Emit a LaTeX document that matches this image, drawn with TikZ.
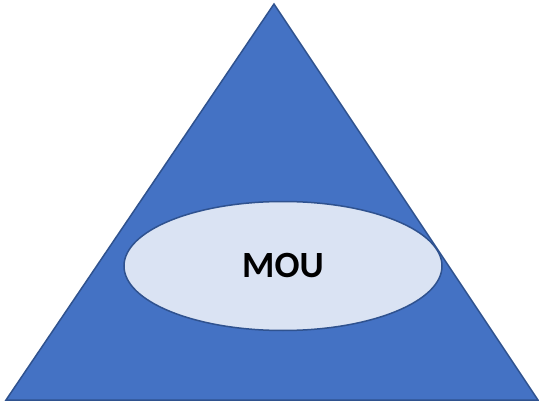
\documentclass[tikz,border=0pt]{standalone}
\usepackage{fontspec}
\setmainfont{Carlito}
\usepackage{tikz}
\usetikzlibrary{shapes.geometric}

\definecolor{pyrblue}{HTML}{4472C4}
\definecolor{pyredge}{HTML}{2F528F}
\definecolor{paleblue}{HTML}{DAE3F3}

\begin{document}
\begin{tikzpicture}[x=1pt, y=-1pt,
    mouellipse/.style={ellipse, draw=pyredge, line width=1.5pt, fill=paleblue,
      minimum width=318pt, minimum height=129pt, inner sep=0pt,
      font=\fontsize{37}{44}\selectfont\bfseries}]
    \useasboundingbox (0,0) rectangle (539,404);
    \draw[pyredge, fill=pyrblue, line width=1.5pt, line join=miter] (274,4) -- (538,400) -- (6,400) -- cycle;
    \node[mouellipse] (mou) at (283,266) {MOU};
  \end{tikzpicture}
\end{document}
